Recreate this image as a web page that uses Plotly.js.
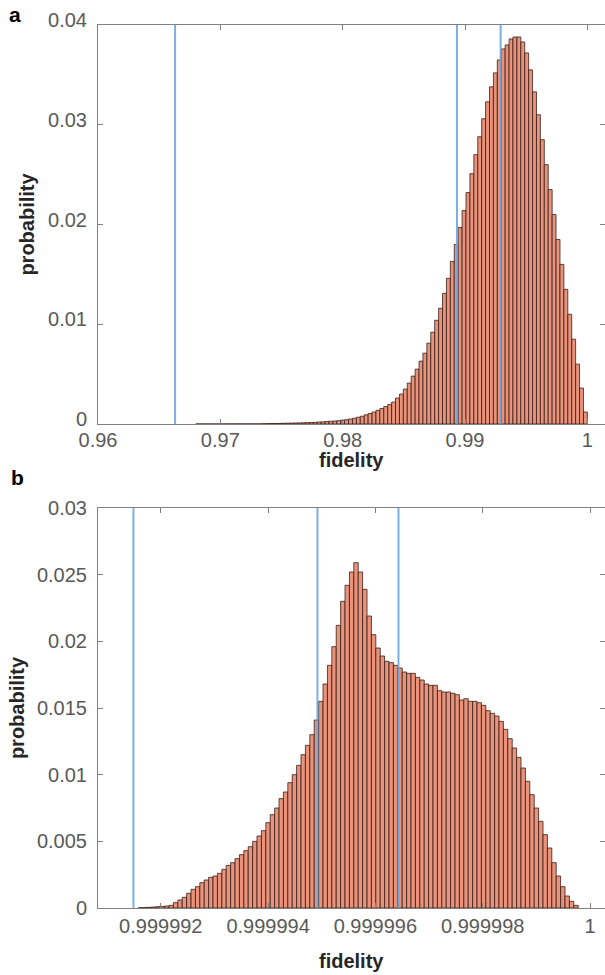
<!DOCTYPE html>
<html>
<head>
<meta charset="utf-8">
<script src="https://cdn.plot.ly/plotly-3.0.1.min.js"></script>
<style>html,body{margin:0;padding:0;background:#fff;}#chart{width:605px;height:975px;}</style>
</head>
<body>
<div id="chart"></div>
<script>
// ---------- Panel a data ----------
const binStartA = 0.968;
const binWidthA = 0.00032;
const probA = [
  0.000005,0.000005,0.000005,0.000005,0.000005,0.000005,0.000005,0.000005,0.000005,0.000005,
  0.00001,0.00001,0.00001,0.00001,0.00001,0.00001,0.00001,0.00003,0.00004,0.00005,
  0.00005,0.00006,0.00007,0.00008,0.00009,0.0001,0.00011,0.00012,0.00014,0.00015,
  0.00017,0.0002,0.00022,0.00025,0.00028,0.0003,0.00034,0.00038,0.00043,0.0005,
  0.00058,0.00068,0.00078,0.00092,0.00105,0.0012,0.00137,0.00155,0.00175,0.00195,
  0.0022,0.0026,0.003,0.0035,0.0041,0.0048,0.0055,0.0063,0.0071,0.0081,
  0.0092,0.0104,0.0116,0.0131,0.0146,0.0163,0.018,0.0197,0.0214,0.0232,
  0.0251,0.027,0.0288,0.0306,0.0323,0.0338,0.0352,0.0365,0.0376,0.038,
  0.0386,0.0388,0.0388,0.0383,0.0372,0.0355,0.0333,0.031,0.0285,0.026,
  0.0235,0.021,0.0185,0.016,0.0135,0.011,0.0085,0.006,0.0036,0.0012
];
const linesA = [0.9663, 0.98934, 0.99291];
const xTicksA = [0.96, 0.97, 0.98, 0.99, 1];
const xTickTextA = ['0.96', '0.97', '0.98', '0.99', '1'];
const yTicksA = [0, 0.01, 0.02, 0.03, 0.04];
const yTickTextA = ['0', '0.01', '0.02', '0.03', '0.04'];

// ---------- Panel b data ----------
const binStartB = 0.99999158;
const binWidthB = 8.2e-8;
const probB = [
  0.00002,0.00003,0.00005,0.00007,0.0001,0.00012,0.00015,0.0002,0.0004,0.0006,
  0.0008,0.0011,0.0014,0.0016,0.0019,0.0021,0.0023,0.0024,0.0026,0.0029,
  0.0032,0.0034,0.0037,0.004,0.0043,0.0046,0.005,0.0054,0.0058,0.0064,
  0.007,0.0075,0.0082,0.0087,0.0094,0.01,0.0107,0.0115,0.0122,0.013,
  0.0141,0.0155,0.0168,0.0182,0.0196,0.0212,0.023,0.0242,0.0252,0.0259,
  0.0252,0.0239,0.0219,0.0205,0.0195,0.0189,0.0185,0.0184,0.0182,0.018,
  0.0177,0.0176,0.0176,0.0173,0.0171,0.0168,0.0167,0.0167,0.0163,0.0162,
  0.0162,0.0161,0.016,0.0156,0.0157,0.0155,0.0155,0.0154,0.0152,0.0148,
  0.0146,0.0144,0.014,0.0134,0.0127,0.012,0.0113,0.0105,0.0095,0.0085,
  0.0075,0.0065,0.0055,0.0045,0.0034,0.0024,0.0016,0.0009,0.0005,0.0002
];
const linesB = [0.99999149, 0.99999492, 0.99999643];
const xTicksB = [0.999992, 0.999994, 0.999996, 0.999998, 1];
const xTickTextB = ['0.999992', '0.999994', '0.999996', '0.999998', '1'];
const yTicksB = [0, 0.005, 0.01, 0.015, 0.02, 0.025, 0.03];
const yTickTextB = ['0', '0.005', '0.01', '0.015', '0.02', '0.025', '0.03'];

const xTitle = 'fidelity';
const yTitle = 'probability';
const panelLabels = ['a', 'b'];

// ---------- styles ----------
const FONT = 'Liberation Sans, Arial, Helvetica, sans-serif';
const barFill = 'rgb(234,146,122)';
const barEdge = 'rgba(45,25,20,0.85)';
const lineBlue = 'rgba(110,168,224,0.92)';
const axisGray = '#808080';
const tickFont = {family: FONT, size: 20, color: '#595959'};
const titleFont = {family: FONT, size: 20, color: '#262626', weight: 'bold'};

const W = 605, H = 975;
const xDom = [98 / W, 604.5 / W];
const yDomA = [1 - 424 / H, 1 - 25 / H];
const yDomB = [1 - 908 / H, 1 - 508 / H];

const traces = [
  {
    type: 'bar', x0: binStartA + binWidthA / 2, dx: binWidthA, y: probA,
    width: binWidthA, xaxis: 'x', yaxis: 'y',
    marker: {color: barFill, line: {color: barEdge, width: 0.9}},
    hoverinfo: 'x+y', showlegend: false
  },
  {
    type: 'bar', x0: binStartB + binWidthB / 2, dx: binWidthB, y: probB,
    width: binWidthB, xaxis: 'x2', yaxis: 'y2',
    marker: {color: barFill, line: {color: barEdge, width: 0.9}},
    hoverinfo: 'x+y', showlegend: false
  }
];

function axisBase() {
  return {
    showline: true, linecolor: axisGray, linewidth: 1, mirror: 'ticks',
    ticks: 'inside', ticklen: 5, tickcolor: axisGray, tickwidth: 1,
    showgrid: false, zeroline: false, tickfont: tickFont, fixedrange: true
  };
}

const shapes = [];
linesA.forEach(v => shapes.push({type: 'line', xref: 'x', yref: 'y domain', x0: v, x1: v, y0: 0, y1: 1,
  line: {color: lineBlue, width: 2}, layer: 'above'}));
linesB.forEach(v => shapes.push({type: 'line', xref: 'x2', yref: 'y2 domain', x0: v, x1: v, y0: 0, y1: 1,
  line: {color: lineBlue, width: 2}, layer: 'above'}));

const xMid = (xDom[0] + xDom[1]) / 2;

const layout = {
  width: W, height: H,
  margin: {l: 0, r: 0, t: 0, b: 0},
  paper_bgcolor: '#ffffff', plot_bgcolor: '#ffffff',
  bargap: 0, showlegend: false,
  xaxis: Object.assign(axisBase(), {
    domain: xDom, anchor: 'y', range: [0.96, 1.0014],
    tickvals: xTicksA, ticktext: xTickTextA, ticklabelstandoff: -2
  }),
  yaxis: Object.assign(axisBase(), {
    domain: yDomA, anchor: 'x', range: [0, 0.04],
    tickvals: yTicksA, ticktext: yTickTextA, ticklabelstandoff: 6, ticklabelshift: -5,
    title: {text: yTitle, font: titleFont, standoff: 8}
  }),
  xaxis2: Object.assign(axisBase(), {
    domain: xDom, anchor: 'y2', range: [0.99999083, 1.00000027],
    tickvals: xTicksB, ticktext: xTickTextB, ticklabelstandoff: 0
  }),
  yaxis2: Object.assign(axisBase(), {
    domain: yDomB, anchor: 'x2', range: [0, 0.03],
    tickvals: yTicksB, ticktext: yTickTextB, ticklabelstandoff: 6,
    title: {text: yTitle, font: titleFont, standoff: 6}
  }),
  shapes: shapes,
  annotations: [
    {text: xTitle, xref: 'paper', yref: 'paper', x: xMid, y: 1 - 460 / H, showarrow: false,
      font: titleFont, xanchor: 'center', yanchor: 'middle'},
    {text: xTitle, xref: 'paper', yref: 'paper', x: xMid, y: 1 - 961 / H, showarrow: false,
      font: titleFont, xanchor: 'center', yanchor: 'middle'},
    {text: panelLabels[0], xref: 'paper', yref: 'paper', x: 15 / W, y: 1 - 15 / H, showarrow: false,
      font: {family: FONT, size: 21, color: '#000', weight: 'bold'}, xanchor: 'center', yanchor: 'middle'},
    {text: panelLabels[1], xref: 'paper', yref: 'paper', x: 17 / W, y: 1 - 478 / H, showarrow: false,
      font: {family: FONT, size: 21, color: '#000', weight: 'bold'}, xanchor: 'center', yanchor: 'middle'}
  ]
};

Plotly.newPlot('chart', traces, layout, {staticPlot: true, displayModeBar: false});
</script>
</body>
</html>
